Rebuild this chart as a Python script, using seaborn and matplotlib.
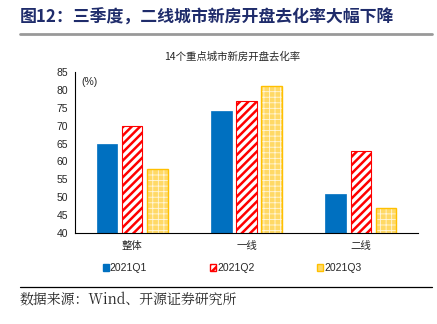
import matplotlib
matplotlib.use("Agg")
import matplotlib.pyplot as plt
import seaborn as sns
import pandas as pd
from matplotlib.patches import Rectangle, Patch
from matplotlib.lines import Line2D

categories = ["整体", "一线", "二线"]
series = ["2021Q1", "2021Q2", "2021Q3"]
q1 = [65, 74, 51]
q2 = [70, 77, 63]
q3 = [58, 81, 47]
yticks = [40, 45, 50, 55, 60, 65, 70, 75, 80, 85]

sns.set_theme(style="white")
plt.rcParams["font.family"] = ["Noto Sans CJK SC", "DejaVu Sans"]
plt.rcParams["hatch.linewidth"] = 1.8

rows = []
for s, vals in zip(series, [q1, q2, q3]):
    for c, v in zip(categories, vals):
        rows.append({"cat": c, "series": s, "value": v})
df = pd.DataFrame(rows)

fig = plt.figure(figsize=(4.37, 3.24), dpi=100)
ax = fig.add_axes([75/437, 1 - 233/324, (418-75)/437, (233-72)/324])

blue = "#0070C0"
red = "#FF0000"
yellow_face = "#FFD966"
yellow_edge = "#FFC000"

sns.barplot(data=df, x="cat", y="value", hue="series", order=categories,
            hue_order=series, palette=[blue, "white", yellow_face],
            width=0.66, gap=0.18, ax=ax, legend=False, saturation=1)

n = len(categories)
patches = list(ax.patches)
for i, p in enumerate(patches):
    si = i // n
    p.set_y(0)
    if si == 0:
        p.set_facecolor(blue)
        p.set_edgecolor(blue)
        p.set_linewidth(0.5)
    elif si == 1:
        p.set_facecolor("white")
        p.set_edgecolor(red)
        p.set_hatch("////")
        p.set_linewidth(0.8)
    else:
        p.set_facecolor(yellow_face)
        p.set_edgecolor("#FFF6DC")
        p.set_hatch("+++")
        p.set_linewidth(0)
        if hasattr(p, "set_hatch_linewidth"):
            p.set_hatch_linewidth(0.6)
        ax.add_patch(Rectangle((p.get_x(), p.get_y()), p.get_width(), p.get_height(),
                               fill=False, edgecolor=yellow_edge, linewidth=1.0))

ax.set_ylim(40, 85)
ax.set_xlim(-0.5, n - 0.5)
ax.set_yticks(yticks)
ax.set_yticklabels([str(v) for v in yticks], fontsize=7.5, family="Liberation Sans")
ax.set_xticks(range(n))
ax.set_xticklabels(categories, fontsize=7.5)
ax.set_xticks([i - 0.5 for i in range(n + 1)], minor=True)
ax.tick_params(axis="x", which="major", length=0, pad=6)
ax.tick_params(axis="x", which="minor", length=3, width=0.8, color="black", direction="out")
ax.tick_params(axis="y", which="major", length=3, width=0.8, color="black", direction="out", pad=2)
ax.set_xlabel("")
ax.set_ylabel("")
for side in ["top", "right"]:
    ax.spines[side].set_visible(False)
for side in ["left", "bottom"]:
    ax.spines[side].set_color("black")
    ax.spines[side].set_linewidth(0.8)
ax.grid(False)

ax.text(0.02, 0.97, "(%)", transform=ax.transAxes, fontsize=7.5,
        family="Liberation Sans", va="top", ha="left")

fig.text(20/437, 1 - 18/324, "图12：三季度，二线城市新房开盘去化率大幅下降",
         fontsize=12.2, fontweight="bold", color="#1F2C6B", va="center", ha="left")
fig.add_artist(Line2D([20/437, 432/437], [1 - 34/324, 1 - 34/324],
                      color="#999999", linewidth=2))
fig.text(232/437, 1 - 57/324, "14个重点城市新房开盘去化率", fontsize=7.5,
         va="center", ha="center")

handles = [
    Patch(facecolor=blue, edgecolor=blue),
    Patch(facecolor="white", edgecolor=red, hatch="////"),
    Patch(facecolor=yellow_face, edgecolor=yellow_edge, hatch=""),
]
fig.legend(handles, series, loc="center", bbox_to_anchor=(232/437, 1 - 268/324),
           ncol=3, frameon=False, handlelength=0.6, handleheight=0.6,
           handletextpad=0.1, columnspacing=6.0, prop={"family": "Liberation Sans", "size": 7.5})

fig.add_artist(Line2D([20/437, 432/437], [1 - 287/324, 1 - 287/324],
                      color="black", linewidth=0.9))
fig.text(20/437, 1 - 300/324, "数据来源：Wind、开源证券研究所", fontsize=10,
         va="center", ha="left", family=["Noto Serif CJK SC", "Noto Sans CJK SC", "DejaVu Sans"])

fig.savefig("out.png", dpi=100)
